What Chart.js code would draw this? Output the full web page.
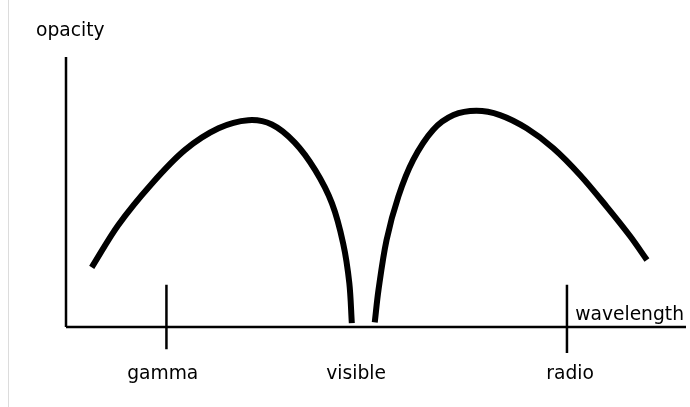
<!DOCTYPE html>
<html>
<head>
<meta charset="utf-8">
<script src="https://cdn.jsdelivr.net/npm/chart.js@4.4.0/dist/chart.umd.min.js"></script>
<style>
    html, body { margin: 0; padding: 0; background: #fff; }
    #wrap { position: relative; width: 690px; height: 407px; }
    #edge { position: absolute; left: 8px; top: 0; width: 1px; height: 407px; background: #dcdcdc; }
</style>
</head>
<body>
<div id="wrap">
    <canvas id="sketch" width="690" height="407"></canvas>
    <div id="edge"></div>
</div>
<script>
// wavelength runs 0..100, opacity 0..100 (arbitrary units, hand-drawn sketch)
var leftX = [4.15, 8.44, 13.8, 19.2, 24.6, 29.4, 33.2, 36.9, 40.2, 42.9, 44.7, 45.7, 46.1];
var leftY = [22.1, 37.8, 53.0, 65.6, 73.6, 76.6, 75.0, 68.3, 58.1, 45.8, 31.0, 16.2, 1.4];

var rightX = [49.8, 50.4, 51.7, 53.6, 56.0, 59.2, 62.5, 66.2, 70.0, 74.3, 78.6, 82.9, 87.2, 91.0, 93.7];
var rightY = [1.7, 13.7, 32.2, 48.3, 61.9, 73.0, 78.5, 80.1, 78.5, 73.6, 66.2, 56.3, 44.6, 33.6, 24.8];

var bandNames = ["gamma", "visible", "radio"];
var bandPos = [15.6, 46.8, 81.3];

var markX = [16.2, 80.8];
var markTop = [15.6, 15.6];
var markBottom = [-8.3, -9.6];

var axisRange = [0, 100];
var yMin = -10;

var fontFamily = '"DejaVu Sans", sans-serif';
var fontSize = 18.7;

function toPoints(xs, ys) {
    return xs.map(function (x, i) { return { x: x, y: ys[i] }; });
}

function lineSet(points, width, tension) {
    return {
        data: points,
        showLine: true,
        borderColor: "#000",
        borderWidth: width,
        pointRadius: 0,
        tension: tension || 0,
        clip: false
    };
}

var datasets = [
    lineSet(toPoints(leftX, leftY), 6, 0.33),
    lineSet(toPoints(rightX, rightY), 6, 0.33),
    // axes
    lineSet([{ x: axisRange[0], y: 0 }, { x: axisRange[1], y: 0 }], 2.5),
    lineSet([{ x: axisRange[0], y: axisRange[0] }, { x: axisRange[0], y: axisRange[1] }], 2.5)
];
markX.forEach(function (x, i) {
    datasets.push(lineSet([{ x: x, y: markTop[i] }, { x: x, y: markBottom[i] }], 2.5));
});

// x axis name sits above the axis line, at its right end
var axisName = {
    id: "axisName",
    afterDatasetsDraw: function (chart) {
        var ctx = chart.ctx;
        var xs = chart.scales.x, ys = chart.scales.y;
        ctx.save();
        ctx.font = fontSize + "px " + fontFamily;
        ctx.fillStyle = "#000";
        ctx.textAlign = "right";
        ctx.textBaseline = "alphabetic";
        ctx.fillText("wavelength", xs.getPixelForValue(axisRange[1]) - 2, ys.getPixelForValue(0) - 7);
        ctx.restore();
    }
};

new Chart(document.getElementById("sketch").getContext("2d"), {
    type: "scatter",
    data: { datasets: datasets },
    plugins: [axisName],
    options: {
        responsive: false,
        animation: false,
        layout: { padding: { left: 36, right: 4, top: 0, bottom: 12.6 } },
        plugins: {
            legend: { display: false },
            tooltip: { enabled: false },
            title: {
                display: true,
                text: "opacity",
                align: "start",
                color: "#000",
                font: { family: fontFamily, size: fontSize, weight: "normal" },
                padding: { top: 20.3, bottom: 14.3 }
            }
        },
        scales: {
            x: {
                type: "linear",
                min: axisRange[0],
                max: axisRange[1],
                grid: { display: false, drawTicks: false },
                border: { display: false },
                afterBuildTicks: function (scale) {
                    scale.ticks = bandPos.map(function (v) { return { value: v }; });
                },
                ticks: {
                    autoSkip: false,
                    maxRotation: 0,
                    padding: 9,
                    color: "#000",
                    font: { family: fontFamily, size: fontSize },
                    callback: function (value, index) {
                        return bandNames[index];
                    }
                }
            },
            y: {
                type: "linear",
                min: yMin,
                max: axisRange[1],
                grid: { display: false, drawTicks: false },
                border: { display: false },
                ticks: { display: false },
                afterFit: function (scale) {
                    scale.width = 30;
                }
            }
        }
    }
});
</script>
</body>
</html>
